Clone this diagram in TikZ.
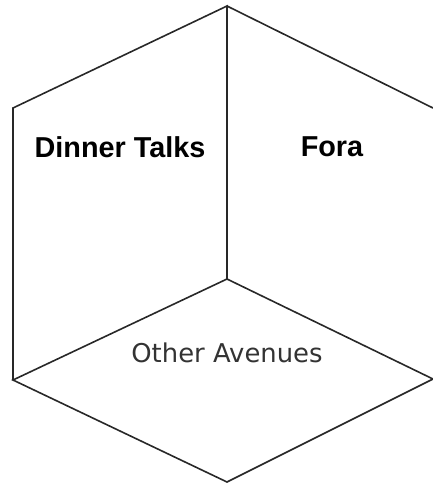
\documentclass[tikz,border=0pt]{standalone}
\usepackage{fontspec}
\setmainfont{Liberation Sans}
\newfontfamily\avefont{DejaVu Sans}
\definecolor{edgegray}{RGB}{40,40,40}
\usepackage{tikz}
\usetikzlibrary{calc}

\begin{document}
\begin{tikzpicture}[x=0.75pt,y=-0.75pt,
  facebox/.style={draw=edgegray,line width=1.2pt,line join=miter},
  facelabel/.style={font=\bfseries\fontsize{21.6}{25}\selectfont,text=black},
  floorlabel/.style={font=\avefont\fontsize{19.4}{23}\selectfont,text=black!80}]
  \useasboundingbox (0,0) rectangle (433,487);
  \coordinate (top) at (227,6);
  \coordinate (ul) at (13,108);
  \coordinate (ur) at (433,108);
  \coordinate (mid) at (227,279);
  \coordinate (ll) at (13,380);
  \coordinate (lr) at (433,379);
  \coordinate (bot) at (227,482);
  % left and right walls
  \draw[facebox] (ll) -- (ul) -- (top) -- (mid);
  \draw[facebox] (top) -- (ur);
  % floor
  \draw[facebox] (ll) -- (mid) -- (lr) -- (bot) -- cycle;
  \node[facelabel] (dinner) at (120,147) {Dinner Talks};
  \node[facelabel] (fora) at (332,147) {Fora};
  \node[floorlabel] (other) at (227,353) {Other Avenues};
\end{tikzpicture}
\end{document}
